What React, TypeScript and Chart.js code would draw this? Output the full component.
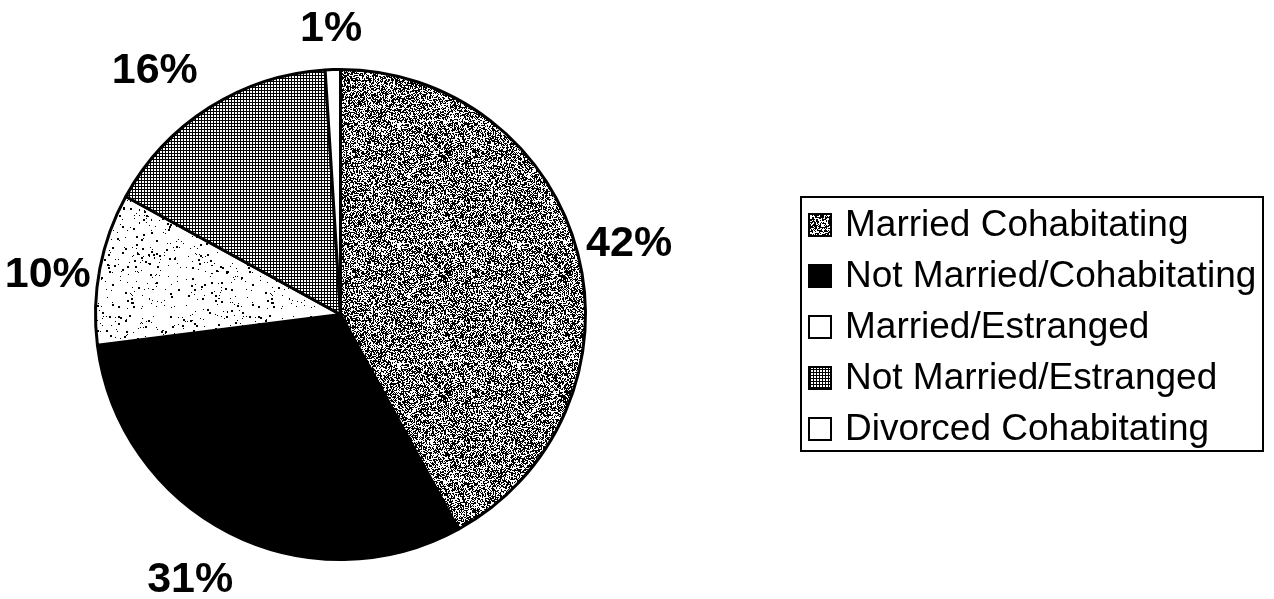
import React, { useEffect, useRef } from "react";
import { Chart, registerables } from "chart.js";

Chart.register(...registerables);

const categories = [
  "Married Cohabitating",
  "Not Married/Cohabitating",
  "Married/Estranged",
  "Not Married/Estranged",
  "Divorced Cohabitating",
];
const values = [42, 31, 10, 16, 1];
const valueLabels = ["42%", "31%", "10%", "16%", "1%"];

// small visual nudges for the outside percentage labels (pixels)
const LABEL_NUDGE: [number, number][] = [
  [0, 4],
  [-15, 0],
  [0, 16],
  [-26, 8],
  [0, 12],
];

function seeded(seed: number) {
  let s = seed >>> 0;
  return () => {
    s = (s + 0x6d2b79f5) >>> 0;
    let t = s;
    t = Math.imul(t ^ (t >>> 15), t | 1);
    t ^= t + Math.imul(t ^ (t >>> 7), t | 61);
    return ((t ^ (t >>> 14)) >>> 0) / 4294967296;
  };
}

function makePattern(
  main: CanvasRenderingContext2D,
  size: number,
  draw: (c: CanvasRenderingContext2D, n: number) => void
): CanvasPattern | string {
  const c = document.createElement("canvas");
  c.width = size;
  c.height = size;
  const ctx = c.getContext("2d")!;
  ctx.fillStyle = "#ffffff";
  ctx.fillRect(0, 0, size, size);
  ctx.fillStyle = "#000000";
  draw(ctx, size);
  return main.createPattern(c, "repeat") || "#888";
}

function buildFills(main: CanvasRenderingContext2D) {
  const noise = makePattern(main, 120, (c, n) => {
    const r = seeded(7);
    for (let y = 0; y < n; y++)
      for (let x = 0; x < n; x++) if (r() < 0.52) c.fillRect(x, y, 1, 1);
  });
  const speckle = makePattern(main, 140, (c, n) => {
    const r = seeded(23);
    for (let i = 0; i < 480; i++) {
      const x = Math.floor(r() * n);
      const y = Math.floor(r() * n);
      const s = r() < 0.3 ? 2 : 1;
      c.fillRect(x, y, s, s);
    }
  });
  const grid = makePattern(main, 3, (c) => {
    c.fillRect(0, 0, 3, 1);
    c.fillRect(0, 0, 1, 3);
  });
  return [noise, "#000000", speckle, grid, "#ffffff"];
}

const FONT = "'Liberation Sans', Arial, Helvetica, sans-serif";

export default function App() {
  const ref = useRef<HTMLCanvasElement | null>(null);

  useEffect(() => {
    const canvas = ref.current!;
    const ctx = canvas.getContext("2d")!;
    const fills = buildFills(ctx);
    const legendFills = [fills[0], fills[1], "#ffffff", fills[3], "#ffffff"];

    const labelPlugin = {
      id: "pctLabels",
      afterDatasetsDraw(chart: any) {
        const c = chart.ctx;
        const meta = chart.getDatasetMeta(0);
        c.save();
        c.fillStyle = "#000";
        c.font = `bold 43px ${FONT}`;
        c.textAlign = "center";
        c.textBaseline = "middle";
        meta.data.forEach((arc: any, i: number) => {
          const mid = (arc.startAngle + arc.endAngle) / 2;
          const d = arc.outerRadius + 53;
          const [nx, ny] = LABEL_NUDGE[i];
          c.fillText(
            valueLabels[i],
            arc.x + Math.cos(mid) * d + nx,
            arc.y + Math.sin(mid) * d + ny
          );
        });
        c.restore();
      },
    };

    const legendPlugin = {
      id: "boxLegend",
      afterDraw(chart: any) {
        const c = chart.ctx;
        c.save();
        c.strokeStyle = "#000";
        c.lineWidth = 2;
        c.strokeRect(801, 197, 462, 254);
        c.font = `37px ${FONT}`;
        c.textBaseline = "middle";
        c.textAlign = "left";
        categories.forEach((name, i) => {
          const cy = 225 + 51 * i;
          const mx = 809;
          const my = cy - 11;
          c.fillStyle = legendFills[i] as any;
          c.fillRect(mx, my, 22, 22);
          c.lineWidth = 2;
          c.strokeStyle = "#000";
          c.strokeRect(mx, my, 22, 22);
          c.fillStyle = "#000";
          c.fillText(name, 845, cy + 1);
        });
        c.restore();
      },
    };

    const chart = new Chart(ctx, {
      type: "pie",
      data: {
        labels: categories,
        datasets: [
          {
            data: values,
            backgroundColor: fills as any,
            borderColor: "#000000",
            borderWidth: 3,
          },
        ],
      },
      options: {
        animation: false,
        responsive: false,
        events: [],
        layout: { padding: { left: 94, top: 68, right: 687, bottom: 38 } },
        plugins: {
          legend: { display: false },
          tooltip: { enabled: false },
          title: { display: false },
        },
      },
      plugins: [labelPlugin, legendPlugin],
    });
    return () => chart.destroy();
  }, []);

  return (
    <div style={{ position: "fixed", left: 0, top: 0, width: 1274, height: 599, background: "#fff" }}>
      <canvas ref={ref} width={1274} height={599} style={{ display: "block" }} />
    </div>
  );
}
